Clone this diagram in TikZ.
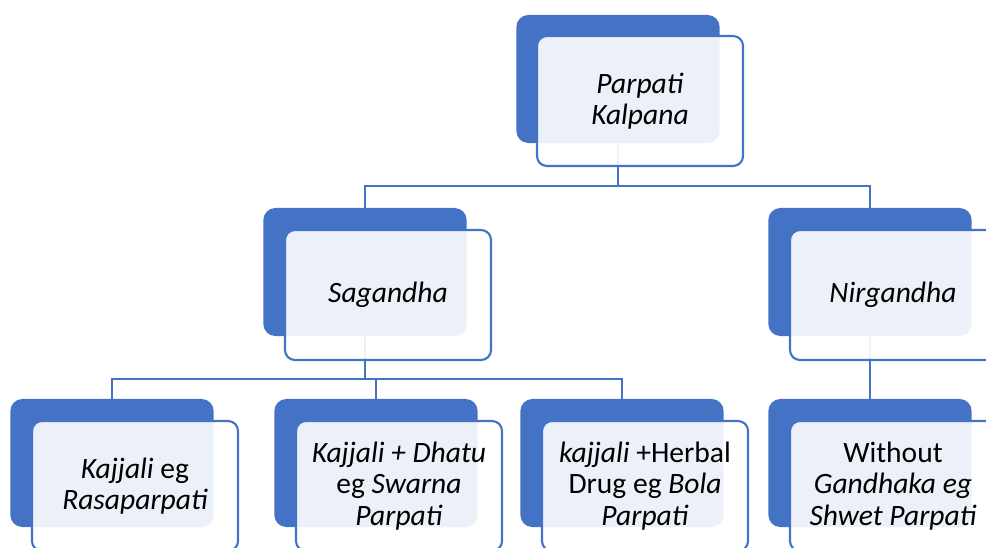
\documentclass[tikz,border=0pt]{standalone}
\usepackage{fontspec}
\setmainfont{Carlito}
\usetikzlibrary{backgrounds}
\definecolor{smartblue}{HTML}{4472C4}

\begin{document}
\begin{tikzpicture}[x=0.025cm, y=-0.025cm,
    backbox/.style={rectangle, rounded corners=0.3cm, fill=smartblue, minimum width=5.08cm, minimum height=3.2cm, inner sep=0pt},
    frontbox/.style={rectangle, rounded corners=0.25cm, draw=smartblue, line width=1.5pt, fill=white, fill opacity=0.9, text opacity=1, minimum width=5.15cm, minimum height=3.25cm, align=center, inner sep=0pt, font=\fontsize{21}{22.5}\selectfont},
    link/.style={smartblue, line width=1.6pt}]
        \useasboundingbox (0,0) rectangle (986,547);
        \clip (0,0) rectangle (986,547);

        % Root
        \node[backbox] (top-s) at (618,79) {};
        \node[frontbox] (top) at (640,101) {\textit{Parpati}\\\textit{Kalpana}};

        % Second level
        \node[backbox] (sag-s) at (365,272) {};
        \node[frontbox] (sag) at (388,295) {\textit{Sagandha}};
        \node[backbox] (nir-s) at (870,272) {};
        \node[frontbox] (nir) at (893,295) {\textit{Nirgandha}};

        % Third level
        \node[backbox] (kaj-s) at (112,463) {};
        \node[frontbox] (kaj) at (135,486) {\textit{Kajjali} eg\\\textit{Rasaparpati}};
        \node[backbox] (swa-s) at (376,463) {};
        \node[frontbox] (swa) at (399,486) {\textit{Kajjali + Dhatu}\\eg \textit{Swarna}\\\textit{Parpati}};
        \node[backbox] (bol-s) at (622,463) {};
        \node[frontbox] (bol) at (645,486) {\textit{kajjali} +Herbal\\Drug eg \textit{Bola}\\\textit{Parpati}};
        \node[backbox] (shw-s) at (870,463) {};
        \node[frontbox] (shw) at (893,486) {Without\\\textit{Gandhaka eg}\\\textit{Shwet Parpati}};

        % Connectors (behind the boxes)
        \begin{scope}[on background layer]
            \coordinate (bus1) at (618,186);
            \coordinate (bus2) at (365,379);
            \draw[link] (top-s.south) -- (bus1);
            \draw[link] (sag-s.north) |- (bus1) -| (nir-s.north);
            \draw[link] (sag-s.south) -- (bus2);
            \draw[link] (kaj-s.north) |- (bus2) -| (bol-s.north);
            \draw[link] (swa-s.north) -- (swa-s.north |- bus2);
            \draw[link] (nir-s.south) -- (shw-s.north);
        \end{scope}
\end{tikzpicture}
\end{document}
